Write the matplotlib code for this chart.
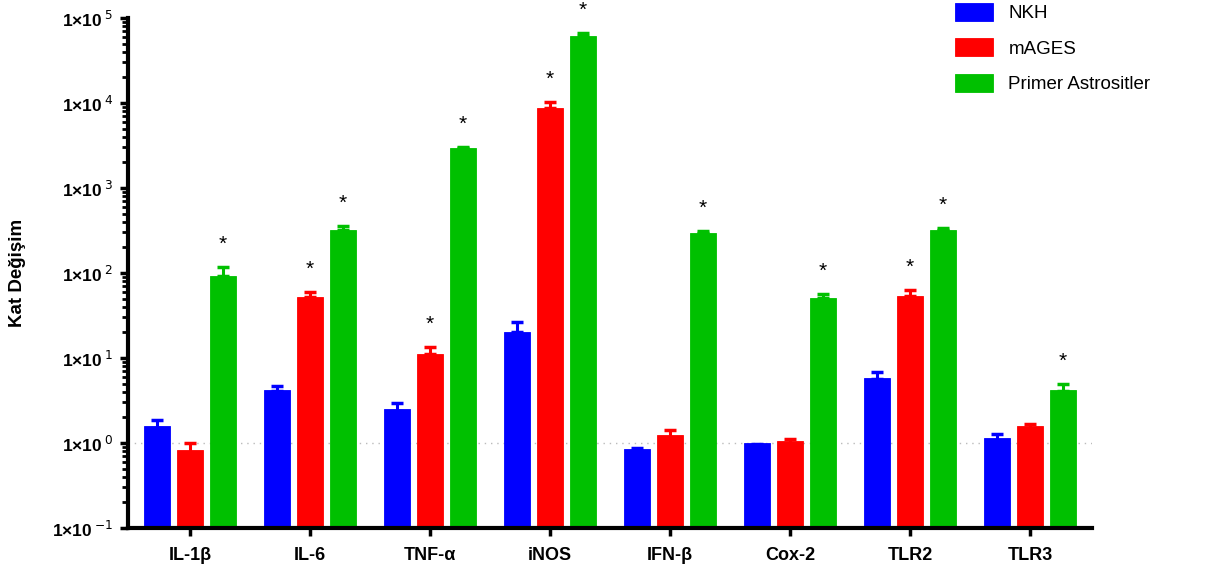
import matplotlib
matplotlib.use("Agg")
import matplotlib.pyplot as plt
import numpy as np

# data (fold change, log scale)
genes = ['IL-1β', 'IL-6', 'TNF-α', 'iNOS', 'IFN-β', 'Cox-2', 'TLR2', 'TLR3']
groups = ['NKH', 'mAGES', 'Primer Astrositler']
colors = ['#0000FF', '#FF0000', '#00C000']

nkh = [1.5, 4.1, 2.4, 20, 0.74, 0.90, 5.7, 1.06]
nkh_err = [0.36, 0.6, 0.55, 6.5, 0.13, 0.07, 1.1, 0.22]
mages = [0.72, 52, 11, 8700, 1.15, 0.95, 54, 1.5]
mages_err = [0.28, 8, 2.5, 1500, 0.27, 0.16, 9, 0.17]
primer = [92, 320, 2950, 61000, 295, 51, 320, 4.1]
primer_err = [26, 35, 60, 5000, 15, 6, 17, 0.8]

# which bars carry a significance star
star_mages = [False, True, True, True, False, False, True, False]
star_primer = [True, True, True, True, True, True, True, True]

plt.rcParams['font.family'] = ['Liberation Sans', 'DejaVu Sans']

fig = plt.figure(figsize=(12.15, 5.73), dpi=100)
ax = fig.add_axes([128 / 1215, 1 - 528 / 573, (1092 - 128) / 1215, (528 - 18) / 573])

x = np.arange(len(genes))
step = 0.275
width = 0.217
series = [(nkh, nkh_err, None), (mages, mages_err, star_mages), (primer, primer_err, star_primer)]

ax.axhline(1, color='#bbbbbb', lw=1, ls=(0, (1, 3.5)), zorder=0)

for i, (vals, errs, stars) in enumerate(series):
    xs = x + (i - 1) * step
    ax.bar(xs, vals, width=width, bottom=0.1, color=colors[i], edgecolor=colors[i],
           linewidth=0.6, label=groups[i], zorder=2)
    ax.errorbar(xs, vals, yerr=[np.zeros(len(vals)), errs], fmt='none', ecolor=colors[i],
                elinewidth=2.2, capsize=4, capthick=2.5, zorder=3)
    if stars is not None:
        for xi, v, e, s in zip(xs, vals, errs, stars):
            if s:
                ax.annotate('*', (xi, v + e), xytext=(0, 16.5), textcoords='offset points',
                            ha='center', va='center', fontsize=15)

ax.set_yscale('log')
ax.set_ylim(0.1, 1e5)
ax.set_xlim(-0.517, 7.517)

yt = [10.0 ** k for k in range(-1, 6)]
ax.set_yticks(yt)
ax.set_yticklabels(['1×10$\\,^{%d}$' % k for k in range(-1, 6)], fontsize=12.5, fontweight='bold')
ax.yaxis.set_minor_locator(matplotlib.ticker.LogLocator(base=10, subs=np.arange(2, 10), numticks=20))
ax.yaxis.set_minor_formatter(matplotlib.ticker.NullFormatter())

ax.set_xticks(x)
ax.set_xticklabels(genes, fontsize=13, fontweight='bold')

for sp in ['top', 'right']:
    ax.spines[sp].set_visible(False)
ax.spines['left'].set_linewidth(3)
ax.spines['bottom'].set_linewidth(3)
ax.tick_params(axis='y', which='major', length=6, width=2.5, pad=5)
ax.tick_params(axis='y', which='minor', length=4, width=2)
ax.tick_params(axis='x', length=6, width=2.5, pad=8)

ax.set_ylabel('Kat Değişim', fontsize=13.5, fontweight='bold')
ax.yaxis.set_label_coords(-0.106, 0.5)

fig.legend(loc='upper left', bbox_to_anchor=(955 / 1215, 1 - 3 / 573), frameon=False,
           fontsize=13.5, handlelength=2.0, handleheight=1.1, labelspacing=0.85,
           handletextpad=0.85, borderpad=0, borderaxespad=0)

fig.savefig('out.png', dpi=100)
